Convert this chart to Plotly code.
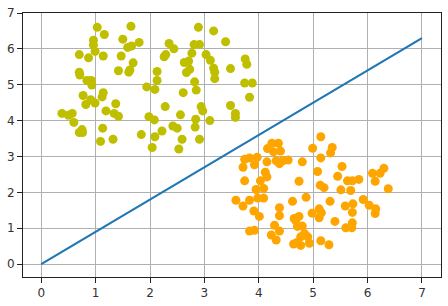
import plotly.graph_objects as go

# Olive cluster
olive_x = [1.03, 1.16, 1.50, 0.96, 0.96, 0.99, 1.14, 0.87, 0.70, 1.47,
           1.42, 0.70, 0.71, 0.84, 0.92, 0.93, 0.77, 1.14, 1.12, 0.91,
           0.82, 0.99, 1.37, 1.19, 1.34, 1.42, 0.38, 0.50, 0.57, 0.60,
           0.75, 0.70, 0.76, 1.13, 1.09, 1.32, 1.65, 1.66, 1.59, 1.80,
           1.69, 1.63, 1.61, 2.35, 2.44, 2.29, 2.26, 2.13, 2.13, 1.94,
           2.09, 2.61, 2.28, 2.56, 1.98, 2.08, 1.84, 2.09, 2.22, 2.42,
           2.50, 2.59, 2.04, 2.53, 2.89, 3.17, 3.39, 2.81, 2.91, 2.77,
           3.03, 3.11, 3.17, 3.19, 3.19, 3.48, 3.75, 3.78, 3.74, 3.88,
           3.83, 3.48, 3.57, 3.57, 2.94, 2.97, 3.10, 2.84, 2.83, 2.91,
           2.82, 2.85, 2.63, 2.71, 2.73, 2.67]
olive_y = [6.60, 6.40, 6.27, 6.24, 6.11, 5.93, 5.80, 5.75, 5.84, 5.80,
           5.39, 5.35, 5.27, 5.12, 5.12, 4.99, 4.70, 4.78, 4.66, 4.58,
           4.45, 4.49, 4.47, 4.27, 4.20, 4.12, 4.20, 4.15, 4.20, 3.95,
           3.75, 3.67, 3.67, 3.79, 3.42, 3.48, 6.63, 6.08, 6.04, 6.18,
           5.61, 5.41, 5.35, 6.15, 6.00, 5.84, 5.78, 5.37, 5.12, 4.94,
           4.87, 4.78, 4.39, 4.16, 4.11, 4.02, 3.61, 3.55, 3.71, 3.85,
           3.79, 3.48, 3.25, 3.21, 6.60, 6.50, 6.20, 6.12, 6.12, 5.88,
           5.84, 5.68, 5.46, 5.35, 5.17, 5.45, 5.72, 5.57, 5.05, 5.05,
           4.65, 4.42, 4.20, 4.09, 4.39, 4.27, 4.00, 4.04, 3.82, 3.48,
           5.08, 4.85, 5.62, 5.66, 5.43, 5.34]

# Orange cluster
orange_x = [4.24, 4.36, 4.16, 4.27, 4.40, 4.99, 3.74, 3.83, 3.97, 3.71,
            3.92, 4.15, 4.32, 4.38, 4.44, 4.54, 4.80, 4.12, 4.15, 4.03,
            3.74, 4.74, 5.08, 3.95, 4.09, 3.58, 3.71, 3.83, 3.98, 4.09,
            4.62, 4.87, 3.91, 4.01, 4.38, 4.38, 4.98, 5.11, 5.15, 5.11,
            4.65, 4.74, 4.68, 4.71, 4.80, 3.83, 3.92, 4.29, 4.38, 4.23,
            4.32, 4.84, 4.90, 4.77, 4.64, 4.70, 4.93, 4.77, 5.14, 5.29,
            5.14, 5.35, 5.32, 5.14, 5.53, 5.45, 5.13, 5.20, 5.51, 5.31,
            5.59, 5.40, 5.60, 5.72, 5.71, 5.63, 5.72, 5.84, 5.69, 5.73,
            5.72, 5.92, 6.03, 6.15, 6.14, 6.09, 6.23, 6.30, 6.14, 6.38]
orange_y = [3.37, 3.37, 3.22, 3.13, 3.15, 3.23, 2.92, 2.96, 2.98, 2.70,
            2.77, 2.85, 2.88, 2.80, 2.88, 2.90, 2.85, 2.56, 2.43, 2.32,
            2.32, 2.31, 2.58, 2.08, 2.11, 1.78, 1.62, 1.78, 1.84, 1.84,
            1.75, 1.86, 1.48, 1.33, 1.57, 1.35, 1.42, 1.54, 1.43, 1.29,
            1.27, 1.33, 1.21, 1.05, 1.06, 0.92, 0.94, 1.08, 0.92, 0.81,
            0.67, 0.85, 0.76, 0.76, 0.56, 0.60, 0.58, 0.52, 0.65, 0.54,
            3.55, 3.25, 3.10, 2.96, 2.72, 2.45, 2.20, 2.13, 2.07, 1.75,
            1.62, 1.19, 1.01, 1.15, 1.01, 2.32, 2.32, 2.36, 2.05, 1.68,
            1.44, 1.80, 1.64, 1.54, 1.41, 2.53, 2.53, 2.67, 2.31, 2.10]

# Separating line
line_x = [0, 7]
line_y = [0, 6.3]

x_ticks = [0, 1, 2, 3, 4, 5, 6, 7]
y_ticks = [0, 1, 2, 3, 4, 5, 6, 7]

fig = go.Figure()
fig.add_trace(go.Scatter(x=olive_x, y=olive_y, mode="markers",
                         marker=dict(color="#bfbf00", size=9, line=dict(width=0)),
                         showlegend=False))
fig.add_trace(go.Scatter(x=orange_x, y=orange_y, mode="markers",
                         marker=dict(color="#ffa500", size=9, line=dict(width=0)),
                         showlegend=False))
fig.add_trace(go.Scatter(x=line_x, y=line_y, mode="lines",
                         line=dict(color="#1f77b4", width=2.2),
                         showlegend=False))

axis_common = dict(
    showgrid=True, gridcolor="#b0b0b0", gridwidth=1,
    showline=True, linecolor="#222222", linewidth=1, mirror=True,
    ticks="outside", ticklen=5, tickwidth=1, tickcolor="#222222",
    zeroline=False,
    tickfont=dict(family="DejaVu Sans", size=12, color="#333333"),
)

fig.update_xaxes(range=[-0.335, 7.35], tickvals=x_ticks, **axis_common)
fig.update_yaxes(range=[-0.36, 7.0], tickvals=y_ticks, **axis_common)

fig.update_layout(
    width=448, height=306,
    margin=dict(l=23, r=6, t=10, b=23),
    plot_bgcolor="white", paper_bgcolor="white",
)

fig.write_html("out.html")
